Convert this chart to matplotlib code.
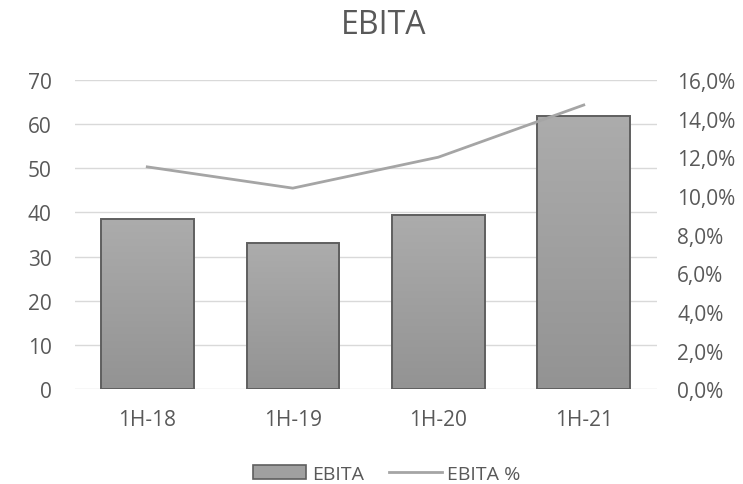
import numpy as np
import matplotlib
matplotlib.use("Agg")
import matplotlib.pyplot as plt
from matplotlib.ticker import FuncFormatter
from matplotlib.lines import Line2D
from matplotlib.patches import Patch
from matplotlib.colors import LinearSegmentedColormap

categories = ["1H-18", "1H-19", "1H-20", "1H-21"]
ebita = [38.5, 33.0, 39.5, 61.8]
ebita_pct = [11.5, 10.4, 12.0, 14.7]
left_ticks = [0, 10, 20, 30, 40, 50, 60, 70]
right_ticks = [0, 2, 4, 6, 8, 10, 12, 14, 16]

plt.rcParams['font.family'] = ['Open Sans', 'DejaVu Sans']
text_color = "#595959"

fig = plt.figure(figsize=(7.43, 4.85), dpi=100)
ax = fig.add_axes([0.1003, 0.1953, 0.7833, 0.638])
ax2 = ax.twinx()

x = np.arange(len(categories))
bars = ax.bar(x, ebita, width=0.636, color="none", edgecolor="#5f5f5f",
              linewidth=1.4, zorder=3)

# vertical grey gradient inside each bar
grad = np.linspace(0, 1, 256).reshape(-1, 1)
cmap = LinearSegmentedColormap.from_list("g", ["#939393", "#acacac"])
for b in bars:
    x0, y0 = b.get_x(), b.get_y()
    w, h = b.get_width(), b.get_height()
    im = ax.imshow(grad, extent=[x0, x0 + w, y0, y0 + h], origin="lower",
                   cmap=cmap, aspect="auto", zorder=2)
    im.set_clip_path(b)

ax.set_xlim(-0.5, len(categories) - 0.5)
ax.set_ylim(0, 70)
ax.set_yticks(left_ticks)
ax.set_xticks(x)
ax.set_xticklabels(categories)
ax.grid(axis="y", color="#d9d9d9", linewidth=1, zorder=0)
ax.set_axisbelow(True)

ax2.plot(x, ebita_pct, color="#a5a5a5", linewidth=2.0, zorder=4)
ax2.set_ylim(0, 16)
ax2.set_yticks(right_ticks)
ax2.yaxis.set_major_formatter(FuncFormatter(lambda v, p: f"{v:.1f}%".replace(".", ",")))

for a in (ax, ax2):
    for s in a.spines.values():
        s.set_visible(False)
    a.tick_params(length=0, labelsize=15, labelcolor=text_color)
ax.tick_params(axis="y", pad=16.5)
ax.tick_params(axis="x", pad=14)
ax2.tick_params(axis="y", pad=15)

fig.text(0.516, 0.948, "EBITA", ha="center", va="center", fontsize=23, color=text_color)

handles = [Patch(facecolor="#a0a0a0", edgecolor="#5f5f5f", linewidth=1.2),
           Line2D([0], [0], color="#a5a5a5", linewidth=2.0)]
fig.legend(handles, ["EBITA", "EBITA %"], loc="center", bbox_to_anchor=(0.521, 0.0206),
           ncol=2, frameon=False, fontsize=14, labelcolor=text_color,
           handlelength=2.7, handleheight=0.7, columnspacing=1.3, handletextpad=0.3,
           borderpad=0)

fig.savefig("out.png", dpi=100)
